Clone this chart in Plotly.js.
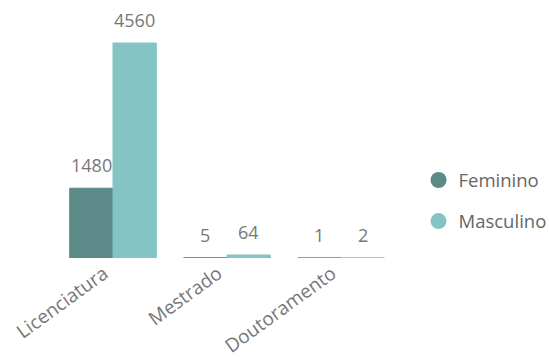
<!DOCTYPE html>
<html><head><meta charset="utf-8">
<script src="https://cdn.plot.ly/plotly-3.0.1.min.js"></script>
<style>body{margin:0;background:#fff}#c{width:549px;height:357px}</style>
</head><body><div id="c"></div>
<script>
const categories = ["Licenciatura", "Mestrado", "Doutoramento"];
const feminino = [1480, 5, 1];
const masculino = [4560, 64, 2];
const seriesNames = ["Feminino", "Masculino"];
const colors = ["#5c8a88", "#85c4c4"];

const font = "'Open Sans', 'Noto Sans', sans-serif";
function barTrace(vals, i) {
  return {
    type: "bar", x: categories, y: vals, name: seriesNames[i],
    marker: {color: colors[i], line: {color: colors[i], width: 1}},
    showlegend: false, hoverinfo: "skip"
  };
}
function legendTrace(i) {
  return {
    type: "scatter", mode: "markers", x: [null], y: [null], name: seriesNames[i],
    marker: {color: colors[i], size: 17, symbol: "circle"}, legendgroup: "g" + i
  };
}
const data = [barTrace(feminino, 0), barTrace(masculino, 1), legendTrace(0), legendTrace(1)];
const annotations = [];
[feminino, masculino].forEach((vals, i) => {
  vals.forEach((v, k) => {
    annotations.push({x: categories[k], y: v, text: String(v), showarrow: false,
      xanchor: "center", yanchor: "bottom", yshift: 9, xshift: i === 0 ? -21.7 : 21.7,
      font: {size: 18, color: "#777", family: font}});
  });
});
const layout = {
  width: 549, height: 357,
  margin: {l: 56, r: 151, t: 10, b: 99, autoexpand: false},
  paper_bgcolor: "#fff", plot_bgcolor: "#fff",
  barmode: "group", bargap: 0.24, bargroupgap: 0,
  showlegend: true, annotations: annotations,
  legend: {x: 1.06, y: 0.23, xanchor: "left", yanchor: "middle",
    font: {size: 18.5, color: "#666", family: font}, tracegroupgap: 14, itemwidth: 30},
  xaxis: {tickangle: -36, showgrid: false, zeroline: false, showline: false, ticks: "",
    ticklabelshift: -9, automargin: false,
    tickfont: {size: 19, color: "#777", family: font}},
  yaxis: {visible: false, range: [0, 5260], showgrid: false, zeroline: false},
  font: {family: font}
};
Plotly.newPlot("c", data, layout, {displayModeBar: false, staticPlot: true});
</script></body></html>
